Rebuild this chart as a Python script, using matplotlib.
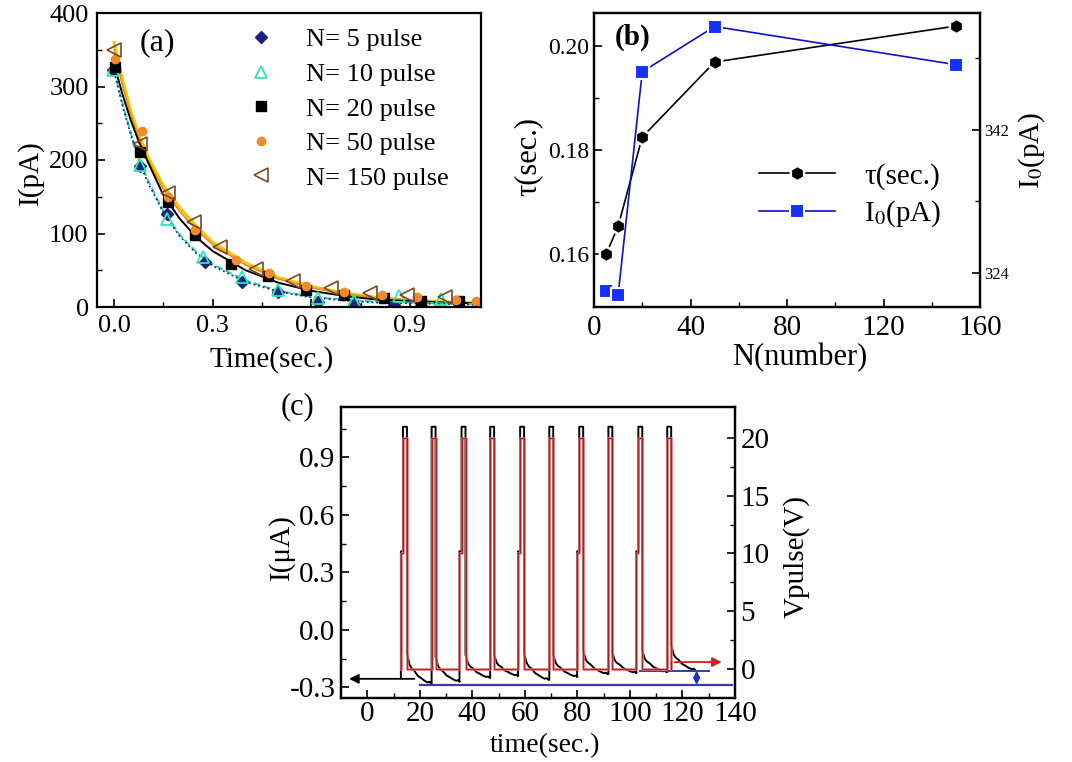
import matplotlib.pyplot as plt
import numpy as np

plt.rcParams['font.family'] = ['Liberation Serif', 'DejaVu Serif']
plt.rcParams['mathtext.fontset'] = 'stix'
plt.rcParams['xtick.direction'] = 'in'
plt.rcParams['ytick.direction'] = 'in'
plt.rcParams['axes.linewidth'] = 1.6

W, H = 1072, 762

# ---------------- (a) current decay after N pulses ----------------
t_n5 = [-0.003, 0.079, 0.162, 0.277, 0.388, 0.5, 0.621, 0.73, 0.85, 0.935]
i_n5 = [322, 192, 127, 61, 34, 20, 7, 4, 3, 2]
t_n10 = [-0.003, 0.079, 0.162, 0.27, 0.388, 0.5, 0.62, 0.73, 0.867, 0.995]
i_n10 = [322, 193, 120, 68, 41, 23, 12, 8, 15, 11]
t_n20 = [0.003, 0.079, 0.164, 0.245, 0.357, 0.468, 0.583, 0.7, 0.82, 0.935, 1.05]
i_n20 = [326, 211, 143, 98, 59, 42, 23, 16, 12, 8, 8]
t_n50 = [0.003, 0.084, 0.164, 0.245, 0.37, 0.47, 0.583, 0.7, 0.815, 0.92, 1.04, 1.1]
i_n50 = [338, 240, 150, 105, 64, 46, 28, 20, 16, 13, 10, 8]
t_n150 = [0.0, 0.079, 0.165, 0.243, 0.322, 0.432, 0.545, 0.66, 0.778, 0.89, 1.007]
i_n150 = [350, 222, 155, 116, 82, 52, 35, 26, 19, 16, 14]

# fitted curves
fit_t = [0, 0.025, 0.05, 0.075, 0.1, 0.15, 0.2, 0.25, 0.3, 0.4, 0.5, 0.6, 0.7, 0.8, 0.9, 1.0, 1.12]
fit_n5 = [320, 275, 236, 200, 172, 128, 96, 73, 56, 34, 21, 13, 9, 6, 5, 4, 3]
fit_n10 = [322, 278, 238, 203, 175, 130, 98, 75, 58, 36, 22, 14, 10, 7, 6, 5, 4]
fit_n20 = [330, 290, 255, 225, 200, 152, 120, 95, 76, 50, 33, 22, 15, 10, 8, 6, 5]
fit_n50 = [350, 302, 262, 230, 202, 160, 130, 105, 85, 57, 38, 26, 18, 12, 9, 7, 5]
fit_n150 = [360, 310, 268, 235, 207, 165, 135, 110, 88, 60, 40, 28, 19, 13, 9, 7, 5]

# ---------------- (b) fit parameters ----------------
n_pulse = [5, 10, 20, 50, 150]
tau = [0.160, 0.1654, 0.1825, 0.1969, 0.2038]
i0 = [321.7, 321.2, 349.3, 355.0, 350.2]

# ---------------- (c) pulse train ----------------
pulse_t = [13.6, 24.5, 35.9, 46.8, 58.2, 69.3, 80.7, 91.8, 103.2, 114.2]
pulse_w = 1.5
step_pre = 0.8
i_peak = 1.06
i_step = 0.41
decay_start = [-0.12, -0.14, -0.13, -0.13, -0.12, -0.13, -0.11, -0.12, -0.11, -0.08]
decay_floor = [-0.28, -0.27, -0.25, -0.24, -0.26, -0.245, -0.23, -0.225, -0.22, -0.21]
decay_dt = [0, 0.4, 1.0, 1.8, 2.8, 4.2, 5.4, 6.6, 7.8, 8.6, 9.2]
decay_frac = [1, 0.85, 0.62, 0.5, 0.42, 0.25, 0.18, 0.1, 0.04, 0.06, 0]
v_high, v_step, v_tail = 20, 10, 0.6

fig = plt.figure(figsize=(W / 100, H / 100), dpi=100)

def box(l, t, r, b):
    return [l / W, 1 - b / H, (r - l) / W, (b - t) / H]

# ===== panel a =====
ax = fig.add_axes(box(97, 13, 481, 307))
ax.plot(fit_t, fit_n150, color='#f2c800', lw=2.2)
ax.plot(fit_t, fit_n50, color='#e8892a', lw=1.2)
ax.plot(fit_t, fit_n20, color='black', lw=1.4)
ax.plot(fit_t, fit_n10, color='#20d8a8', lw=1.4, ls='--')
ax.plot(fit_t, fit_n5, color='#1a2a80', lw=1.3, ls=':')
ax.plot(t_n5, i_n5, 'D', color='#1a237e', ms=6, label='N= 5 pulse')
ax.plot(t_n10, i_n10, '^', mfc='none', mec='#2ee8b0', mew=1.3, ms=8, label='N= 10 pulse')
ax.plot(t_n20, i_n20, 's', color='black', ms=7, label='N= 20 pulse')
ax.plot(t_n50, i_n50, 'o', color='#f08a2a', ms=6, label='N= 50 pulse')
ax.plot(t_n150, i_n150, '<', mfc='none', mec='#7a4a20', mew=1.2, ms=10, label='N= 150 pulse')
ax.set_xlim(-0.052, 1.116)
ax.set_ylim(0, 400)
ax.set_xticks([0, 0.3, 0.6, 0.9])
ax.set_xticklabels(['0.0', '0.3', '0.6', '0.9'])
ax.set_xticks(np.arange(0.15, 1.1, 0.3), minor=True)
ax.set_yticks(np.arange(0, 401, 100))
ax.set_yticks(np.arange(50, 400, 100), minor=True)
ax.tick_params(labelsize=19, length=6, width=1.2, pad=6)
ax.tick_params(which='minor', length=3.5, width=1.0)
ax.legend(loc='upper left', bbox_to_anchor=(0.33, 0.985), frameon=False,
          fontsize=19, handletextpad=0.7, labelspacing=0.42, borderaxespad=0)
fig.text(157 / W, 1 - 43 / H, '(a)', fontsize=23, ha='center', va='center')
fig.text(30 / W, 1 - 173 / H, 'I(pA)', fontsize=21, rotation=90, ha='center', va='center')
fig.text(272 / W, 1 - 360 / H, 'Time(sec.)', fontsize=21, ha='center', va='center')

# ===== panel b =====
bx = fig.add_axes(box(594, 13, 980, 307))
bx2 = bx.twinx()
l1, = bx.plot(n_pulse, tau, '-', color='black', lw=1.2, marker='h', ms=11,
              mfc='black', mec='white', mew=1.8, label='τ(sec.)')
l2, = bx2.plot(n_pulse, i0, '-', color='#1010c0', lw=1.2, marker='s', ms=10,
               mfc='#1530ff', mec='white', mew=1.5, label=r'I$_0$(pA)')
bx.set_xlim(0, 160)
bx.set_ylim(0.1499, 0.2063)
bx2.set_ylim(319.7, 356.7)
bx.set_xticks(np.arange(0, 161, 40))
bx.set_xticks(np.arange(20, 160, 40), minor=True)
bx.set_yticks([0.16, 0.18, 0.20])
bx.set_yticklabels(['0.16', '0.18', '0.20'])
bx.set_yticks([0.17, 0.19], minor=True)
bx2.set_yticks([324, 342])
bx2.set_yticks([333, 351], minor=True)
bx.tick_params(axis='x', labelsize=21, length=6, width=1.2, pad=6)
bx.tick_params(axis='y', labelsize=17, length=6, width=1.2)
bx.tick_params(which='minor', length=3.5, width=1.0)
bx2.tick_params(axis='y', labelsize=12, length=6, width=1.2, pad=3)
bx2.tick_params(which='minor', length=3.5, width=1.0)
bx.legend(handles=[l1, l2], loc='upper left', bbox_to_anchor=(0.36, 0.58), frameon=False,
          fontsize=21, handlelength=2.6, handletextpad=1.0, labelspacing=0.3)
fig.text(633 / W, 1 - 37 / H, '(b)', fontsize=21, weight='bold', ha='center', va='center')
fig.text(528 / W, 1 - 157 / H, 'τ(sec.)', fontsize=22, rotation=90, ha='center', va='center')
fig.text(800 / W, 1 - 358 / H, 'N(number)', fontsize=22, ha='center', va='center')
fig.text(1032 / W, 1 - 150 / H, r'I$_0$(pA)', fontsize=21, rotation=90, ha='center', va='center')

# ===== panel c =====
cx = fig.add_axes(box(341, 407, 735, 698))
cx2 = cx.twinx()

cur_t, cur_i = [pulse_t[0] - step_pre], [-0.25]
volt_t, volt_v = [], []
for k, t0 in enumerate(pulse_t):
    odd = k % 2 == 0
    if odd:
        cur_t += [t0 - step_pre, t0 - step_pre, t0]
        cur_i += [cur_i[-1], i_step, i_step]
        volt_t += [t0 - step_pre, t0 - step_pre, t0]
        volt_v += [0, v_step, v_step]
    else:
        cur_t += [t0]
        cur_i += [cur_i[-1]]
        volt_t += [t0]
        volt_v += [0]
    cur_t += [t0, t0 + pulse_w]
    cur_i += [i_peak, i_peak]
    volt_t += [t0, t0 + pulse_w]
    volt_v += [v_high, v_high]
    end = t0 + pulse_w
    for dt, f in zip(decay_dt, decay_frac):
        cur_t.append(end + dt)
        cur_i.append(decay_floor[k] + (decay_start[k] - decay_floor[k]) * f)
    if k < len(pulse_t) - 1:
        volt_t += [end, pulse_t[k + 1] - (step_pre if (k + 1) % 2 == 0 else 0)]
        volt_v += [0, 0]
    else:
        volt_t += [end, end]
        volt_v += [0, v_tail]

cx.plot(cur_t, cur_i, color='black', lw=1.4, zorder=2)
cx2.plot(volt_t, volt_v, color='#e07070', lw=2.0, alpha=0.85, zorder=3)
cx2.plot(volt_t, volt_v, color='#b01010', lw=0.6, zorder=4)

# guide lines and arrows
cx.plot([20, 139], [-0.287, -0.287], color='#3a3aa8', lw=1.6)
cx.plot([104, 130], [-0.212, -0.212], color='#3a3aa8', lw=1.4)
cx.annotate('', xy=(125.4, -0.212), xytext=(125.4, -0.287),
            arrowprops=dict(arrowstyle='<|-|>', color='#2030d0', lw=1.4,
                            mutation_scale=9, shrinkA=0, shrinkB=0))
cx.annotate('', xy=(-8, -0.255), xytext=(19, -0.255),
            arrowprops=dict(arrowstyle='-|>', color='black', lw=1.3, mutation_scale=14))
cx2.annotate('', xy=(136, v_tail), xytext=(116, v_tail),
             arrowprops=dict(arrowstyle='-|>', color='#d02020', lw=1.3, mutation_scale=14))

cx.set_xlim(-10, 140)
cx.set_ylim(-0.355, 1.163)
cx2.set_ylim(-2.51, 22.68)
cx.set_xticks(np.arange(0, 141, 20))
cx.set_xticks(np.arange(10, 140, 20), minor=True)
cx.set_yticks([-0.3, 0.0, 0.3, 0.6, 0.9])
cx.set_yticklabels(['-0.3', '0.0', '0.3', '0.6', '0.9'])
cx.set_yticks([-0.15, 0.15, 0.45, 0.75, 1.05], minor=True)
cx2.set_yticks([0, 5, 10, 15, 20])
cx2.set_yticks([2.5, 7.5, 12.5, 17.5], minor=True)
cx.tick_params(labelsize=21, length=6, width=1.2, pad=4)
cx.tick_params(axis='x', pad=2)
cx.tick_params(which='minor', length=3.5, width=1.0)
cx2.tick_params(labelsize=21, length=6, width=1.2, pad=4)
cx2.tick_params(which='minor', length=3.5, width=1.0)
fig.text(298 / W, 1 - 407 / H, '(c)', fontsize=22, ha='center', va='center')
fig.text(281 / W, 1 - 547 / H, 'I(μA)', fontsize=21, rotation=90, ha='center', va='center')
fig.text(796 / W, 1 - 557 / H, 'Vpulse(V)', fontsize=21, rotation=90, ha='center', va='center')
fig.text(545 / W, 1 - 746 / H, 'time(sec.)', fontsize=20, ha='center', va='center')

fig.savefig('out.png', dpi=100)
